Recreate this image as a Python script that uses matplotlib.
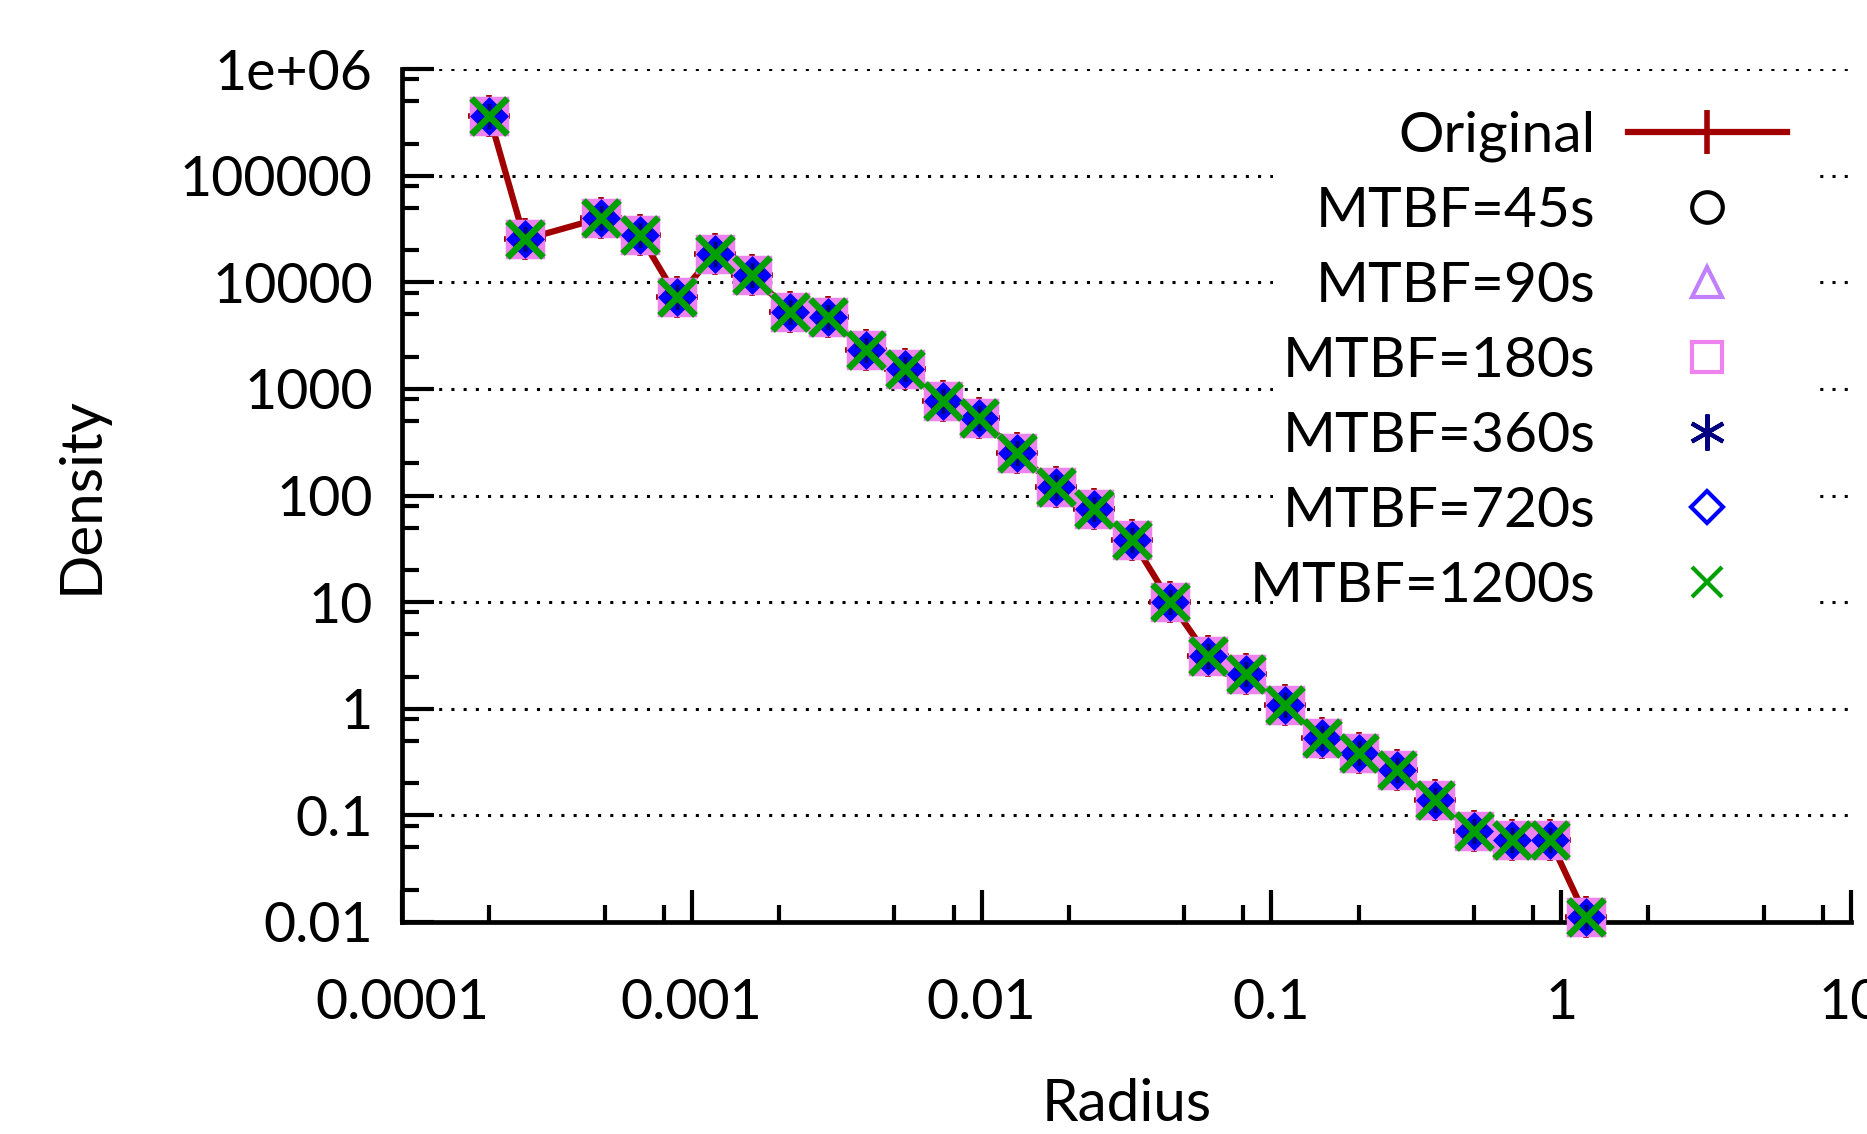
import numpy as np
import matplotlib
matplotlib.use('Agg')
import matplotlib.pyplot as plt
from matplotlib.lines import Line2D
from matplotlib.patches import Rectangle
from matplotlib.ticker import LogLocator, NullFormatter

plt.rcParams['font.family'] = ['Lato', 'DejaVu Sans']

# data (all MTBF runs sit on top of the original curve)
radius = [2.0e-4, 2.65e-4, 4.85e-4, 6.6e-4, 8.9e-4, 1.2e-3, 1.61e-3, 2.18e-3, 2.96e-3,
          4.0e-3, 5.42e-3, 7.33e-3, 9.8e-3, 1.33e-2, 1.8e-2, 2.44e-2, 3.3e-2, 4.47e-2,
          6.04e-2, 8.18e-2, 0.111, 0.150, 0.201, 0.272, 0.368, 0.499, 0.675, 0.914, 1.22]
density = [3.66e5, 2.52e4, 4.0e4, 2.8e4, 7.2e3, 1.85e4, 1.17e4, 5.3e3, 4.7e3,
           2.3e3, 1.53e3, 764, 532, 252, 120, 75, 38.6, 10.1,
           3.1, 2.1, 1.08, 0.526, 0.386, 0.269, 0.138, 0.0707, 0.059, 0.059, 0.0111]

labels = ['MTBF=45s', 'MTBF=90s', 'MTBF=180s', 'MTBF=360s', 'MTBF=720s', 'MTBF=1200s']
mtbf_density = {lab: density for lab in labels}

yticks = [1e-2, 1e-1, 1, 10, 100, 1e3, 1e4, 1e5, 1e6]
yticklabels = ['0.01', '0.1', '1', '10', '100', '1000', '10000', '100000', '1e+06']
xticks = [1e-4, 1e-3, 1e-2, 1e-1, 1, 10]
xticklabels = ['0.0001', '0.001', '0.01', '0.1', '1', '10']

red = '#a00000'
# marker, colour, plot size, legend size, filled in plot
styles = [
    ('o', 'black', 18, 22, False),
    ('^', '#c080ff', 18, 22, False),
    ('s', '#ee82ee', 26, 22, True),
    ((6, 2, 0), '#000080', 18, 26, False),
    ('D', '#0000ff', 17, 16, True),
    ('x', '#00a000', 26, 22, False),
]

fig = plt.figure(figsize=(18.67, 11.34), dpi=100)
ax = fig.add_axes([402/1867, 1 - 922/1134, 1449/1867, 853/1134])

ax.set_xscale('log')
ax.set_yscale('log')
ax.set_xlim(1e-4, 10)
ax.set_ylim(1e-2, 1e6)

# original curve
ax.plot(radius, density, color=red, lw=4.5, marker='+', ms=30, mew=4,
        zorder=3, clip_on=False)

zs = [3.1, 3.2, 3.3, 3.5, 3.4, 3.6]
for (m, c, ms, lms, filled), lab, z in zip(styles, labels, zs):
    ax.plot(radius, mtbf_density[lab], ls='none', marker=m, ms=ms,
            mec=c, mfc=c if filled else 'none', mew=4.8 if m == 'x' else 2.5,
            zorder=z, clip_on=False)

# axes styling (gnuplot-ish: only left/bottom, inward ticks)
for s in ['top', 'right']:
    ax.spines[s].set_visible(False)
for s in ['left', 'bottom']:
    ax.spines[s].set_linewidth(3.4)

ax.set_xticks(xticks, labels=xticklabels)
ax.set_yticks(yticks, labels=yticklabels)
ax.xaxis.set_minor_locator(LogLocator(base=10, subs=(2, 5, 8), numticks=20))
ax.yaxis.set_minor_locator(LogLocator(base=10, subs=(2, 5, 8), numticks=20))
ax.xaxis.set_minor_formatter(NullFormatter())
ax.yaxis.set_minor_formatter(NullFormatter())
ax.tick_params(which='both', direction='in', width=3, labelsize=40)
ax.tick_params(which='major', length=23)
ax.tick_params(which='minor', length=12)
ax.tick_params(axis='y', which='major', pad=21)
ax.tick_params(axis='x', which='major', pad=40)

ax.set_axisbelow(True)
ax.yaxis.grid(True, which='major', color='black', linestyle=(0, (1, 3)), lw=2.2)
ax.xaxis.grid(False)

ax.set_xlabel('Radius', fontsize=42, va='center')
ax.set_ylabel('Density', fontsize=42, va='center')
ax.xaxis.set_label_coords(0.5, -0.214)
ax.yaxis.set_label_coords(-0.2215, 0.5)

# opaque key background
ax.add_patch(Rectangle((1273/1867, 1 - 640/1134), (1815 - 1273)/1867, 550/1134,
                       transform=fig.transFigure, facecolor='white', edgecolor='none',
                       zorder=1, clip_on=False))

handles = [Line2D([], [], color=red, lw=4.5, marker='+', ms=31, mew=4)]
for m, c, ms, lms, filled in styles:
    handles.append(Line2D([], [], ls='none', marker=m, ms=lms, mec=c, mfc='none', mew=3))

leg = ax.legend(handles, ['Original'] + labels, loc='upper right',
                bbox_to_anchor=(1787/1867, 1 - 111/1134), bbox_transform=fig.transFigure,
                frameon=False, markerfirst=False, fontsize=41, borderpad=0,
                borderaxespad=0, handlelength=2.8, handletextpad=0.56, labelspacing=0.42)
leg.set_zorder(5)

fig.savefig('out.png', dpi=100)
